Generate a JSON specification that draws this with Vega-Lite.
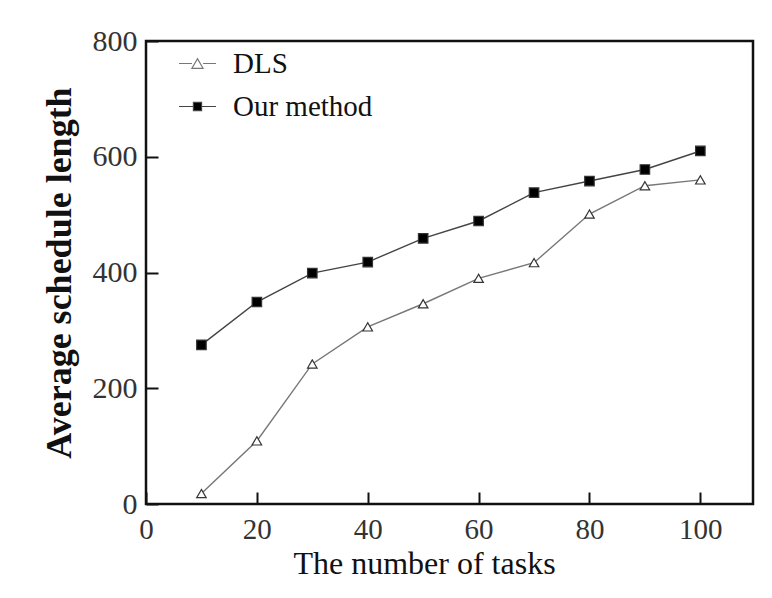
{
  "$schema": "https://vega.github.io/schema/vega-lite/v6.json",
  "width": 607,
  "height": 463,
  "autosize": {"type": "none"},
  "padding": {"left": 146, "top": 41, "right": 19, "bottom": 94},
  "background": "white",
  "config": {
    "view": {"stroke": "#111", "strokeWidth": 2.5, "fill": "transparent"},
    "font": "Liberation Serif",
    "axis": {
      "grid": false,
      "domain": false,
      "ticks": true,
      "zindex": 1,
      "tickWidth": 2,
      "tickOpacity": 1,
      "tickColor": "#111111",
      "labelFont": "Liberation Serif",
      "labelColor": "#333",
      "titleFont": "Liberation Serif",
      "titleColor": "#111"
    }
  },
  "data": {
    "values": [
      {"tasks": 10, "series": "DLS", "length": 18},
      {"tasks": 20, "series": "DLS", "length": 109},
      {"tasks": 30, "series": "DLS", "length": 242},
      {"tasks": 40, "series": "DLS", "length": 306},
      {"tasks": 50, "series": "DLS", "length": 346},
      {"tasks": 60, "series": "DLS", "length": 390},
      {"tasks": 70, "series": "DLS", "length": 417},
      {"tasks": 80, "series": "DLS", "length": 501},
      {"tasks": 90, "series": "DLS", "length": 550},
      {"tasks": 100, "series": "DLS", "length": 560},
      {"tasks": 10, "series": "Our method", "length": 275},
      {"tasks": 20, "series": "Our method", "length": 349},
      {"tasks": 30, "series": "Our method", "length": 399},
      {"tasks": 40, "series": "Our method", "length": 418},
      {"tasks": 50, "series": "Our method", "length": 459},
      {"tasks": 60, "series": "Our method", "length": 489},
      {"tasks": 70, "series": "Our method", "length": 538},
      {"tasks": 80, "series": "Our method", "length": 558},
      {"tasks": 90, "series": "Our method", "length": 578},
      {"tasks": 100, "series": "Our method", "length": 610}
    ]
  },
  "encoding": {
    "x": {
      "field": "tasks",
      "type": "quantitative",
      "scale": {"domain": [0, 109.5], "nice": false, "zero": false},
      "axis": {
        "values": [0, 20, 40, 60, 80, 100],
        "ticks": true,
        "offset": -12,
        "tickSize": 12,
        "tickColor": "#111111",
        "tickWidth": 2,
        "title": "The number of tasks",
        "titleFontSize": 32,
        "titleFontWeight": "normal",
        "titlePadding": 4,
        "titleX": 278,
        "labelFontSize": 29,
        "labelPadding": 11,
        "labelFlush": false,
        "labelOverlap": false
      }
    },
    "y": {
      "field": "length",
      "type": "quantitative",
      "scale": {"domain": [0, 800], "nice": false},
      "axis": {
        "values": [0, 200, 400, 600, 800],
        "ticks": true,
        "offset": -12,
        "tickSize": 12,
        "tickColor": "#111111",
        "tickWidth": 2,
        "title": "Average schedule length",
        "titleFontSize": 36,
        "titleFontWeight": "bold",
        "titlePadding": 14,
        "labelFontSize": 30,
        "labelPadding": 9,
        "labelFlush": false,
        "labelOverlap": false
      }
    }
  },
  "layer": [
    {
      "mark": {"type": "line", "strokeWidth": 1.4},
      "encoding": {
        "color": {
          "field": "series",
          "type": "nominal",
          "scale": {"domain": ["DLS", "Our method"], "range": ["#777777", "#444444"]},
          "legend": {
            "title": null,
            "orient": "none",
            "legendX": 32,
            "legendY": 3,
            "symbolSize": 1369,
            "symbolStrokeWidth": 1.2,
            "labelFontSize": 29,
            "labelFont": "Liberation Serif",
            "labelColor": "#111",
            "labelOffset": 16,
            "rowPadding": 8,
            "encode": {
              "symbols": {
                "update": {
                  "shape": {"signal": "datum.value === 'DLS' ? 'M-1,0H-0.3M0.3,0H1M-0.3,0.26L0,-0.26L0.3,0.26Z' : 'M-1,0H-0.22M0.22,0H1M-0.22,-0.22H0.22V0.22H-0.22Z'"},
                  "fill": {"signal": "datum.value === 'DLS' ? 'white' : 'black'"},
                  "opacity": {"value": 1}
                }
              }
            }
          }
        }
      }
    },
    {
      "mark": {"type": "point", "filled": true, "size": 90, "strokeWidth": 1.2, "stroke": "#333333", "opacity": 1},
      "encoding": {
        "shape": {
          "condition": {"test": "datum.series === 'DLS'", "value": "triangle-up"},
          "value": "square"
        },
        "fill": {
          "condition": {"test": "datum.series === 'DLS'", "value": "white"},
          "value": "black"
        }
      }
    }
  ]
}
